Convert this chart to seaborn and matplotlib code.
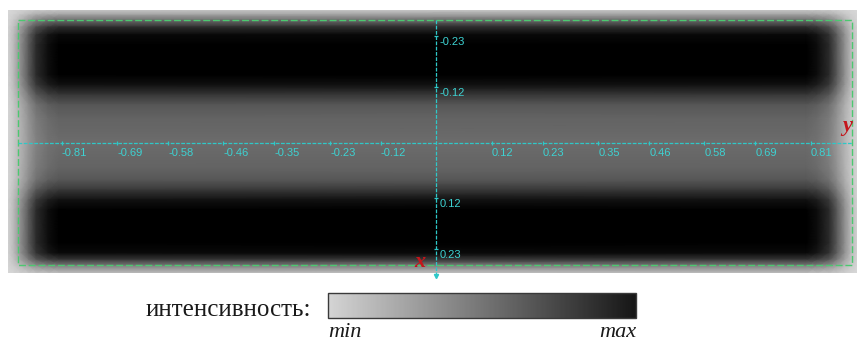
import numpy as np
import matplotlib
matplotlib.use("Agg")
import matplotlib.pyplot as plt
import seaborn as sns
from matplotlib.patches import Rectangle
from matplotlib.colors import Normalize
from matplotlib.cm import ScalarMappable

# ---- data -----------------------------------------------------------------
# transverse coordinate (positive downward) and intensity profile across the field
y_pos = [-0.287, -0.276, -0.265, -0.250, -0.233, -0.211, -0.147, -0.125, -0.103,
         -0.082, -0.053, 0.000, 0.055, 0.081, 0.102, 0.124, 0.146, 0.217, 0.239,
         0.254, 0.267, 0.282]
y_profile = [0.08, 0.27, 0.50, 0.79, 0.96, 1.00, 1.00, 0.92, 0.74, 0.60, 0.54,
             0.50, 0.54, 0.60, 0.74, 0.92, 1.00, 1.00, 0.95, 0.72, 0.40, 0.11]
# longitudinal coordinate and the taper of intensity towards the ends
x_pos = [-0.926, -0.913, -0.900, -0.882, -0.865, -0.839, -0.815,
         0.800, 0.824, 0.850, 0.867, 0.884, 0.897, 0.910]
x_taper = [0.03, 0.15, 0.33, 0.58, 0.80, 0.94, 1.00,
           1.00, 0.94, 0.80, 0.58, 0.33, 0.15, 0.03]

x_ticks = [-0.81, -0.69, -0.58, -0.46, -0.35, -0.23, -0.12,
           0.12, 0.23, 0.35, 0.46, 0.58, 0.69, 0.81]
y_ticks = [-0.23, -0.12, 0.12, 0.23]
frame_x = [-0.904, 0.900]
frame_y = [-0.265, 0.2645]

colorbar_label = "интенсивность:"
min_label, max_label = "min", "max"
# ---------------------------------------------------------------------------

sns.set_theme(style="white")
plt.rcParams["font.family"] = ["Liberation Sans", "DejaVu Sans"]

W, H = 857, 341
fig = plt.figure(figsize=(W / 100, H / 100), dpi=100, facecolor="white")

ax = fig.add_axes([8 / W, (H - 273) / H, 849 / W, 263 / H])
ax.set_facecolor("white")

img_cmap = sns.blend_palette(["#d8d8d8", "#000000"], as_cmap=True)
X, Y = np.meshgrid(x_pos, y_pos)
C = np.outer(y_profile, x_taper)
ax.pcolormesh(X, Y, C, shading="gouraud", cmap=img_cmap, vmin=0, vmax=1)

ax.set_xlim(-0.926, 0.910)
ax.set_ylim(0.2818, -0.287)
ax.set_axis_off()

# green dashed frame
ax.add_patch(Rectangle((frame_x[0], frame_y[0]), frame_x[1] - frame_x[0],
                       frame_y[1] - frame_y[0], fill=False, ec="#4cc870",
                       lw=1.0, ls=(0, (5, 2)), zorder=3))

cyan = "#2ec8c8"
ax.plot(frame_x, [0, 0], color=cyan, lw=0.9, ls=(0, (3, 1.2)), zorder=4)
ax.plot([0, 0], [frame_y[0], 0.289], color=cyan, lw=0.9, ls=(0, (3, 1.2)),
        zorder=4, clip_on=False)
ax.plot([0], [0.289], marker="v", ms=3, color=cyan, clip_on=False, zorder=4)
ax.plot(x_ticks, [0] * len(x_ticks), ls="none", marker="|", ms=3, mew=0.9,
        color=cyan, zorder=4)
ax.plot([0] * len(y_ticks), y_ticks, ls="none", marker="_", ms=3, mew=0.9,
        color=cyan, zorder=4)

for v in x_ticks:
    ax.annotate(f"{v:.2f}", (v, 0), xytext=(0.2, -7.2), textcoords="offset points",
                ha="left", va="center", fontsize=8, color="#3dd2d2", zorder=5)
for v in y_ticks:
    ax.annotate(f"{v:.2f}", (0, v), xytext=(2.2, -4.2), textcoords="offset points",
                ha="left", va="center", fontsize=8, color="#3dd2d2", zorder=5)

red = "#c4161c"
ax.text(0.889, -0.036, "y", ha="center", va="center", fontsize=16, color=red,
        family=["Liberation Serif"], style="italic", weight="bold", zorder=6,
        clip_on=False)
ax.text(-0.035, 0.257, "x", ha="center", va="center", fontsize=16, color=red,
        family=["Liberation Serif"], style="italic", weight="bold", zorder=6,
        clip_on=False)

# colour bar
cax = fig.add_axes([328 / W, (H - 318) / H, 308 / W, 25 / H])
bar_cmap = sns.blend_palette(["#d4d4d4", "#161616"], as_cmap=True)
cb = fig.colorbar(ScalarMappable(norm=Normalize(0, 1), cmap=bar_cmap), cax=cax,
                  orientation="horizontal")
cb.set_ticks([])
cb.outline.set_edgecolor("#3a3a3a")
cb.outline.set_linewidth(1.0)

fig.text(311 / W, (H - 316) / H, colorbar_label, ha="right", va="baseline",
         fontsize=18, color="#1a1a1a", family=["Liberation Serif"])
fig.text(328 / W, 4 / H, min_label, ha="left", va="baseline", fontsize=16,
         color="#1a1a1a", family=["Liberation Serif"], style="italic")
fig.text(636 / W, 4 / H, max_label, ha="right", va="baseline", fontsize=16,
         color="#1a1a1a", family=["Liberation Serif"], style="italic")

fig.savefig("out.png", dpi=100, facecolor="white")
